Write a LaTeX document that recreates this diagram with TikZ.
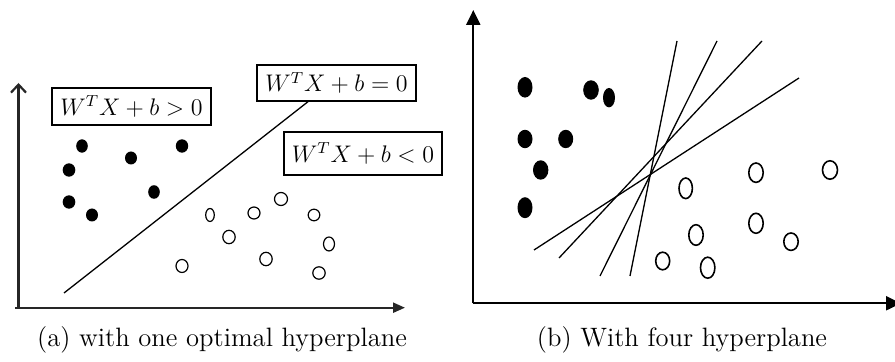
\documentclass[tikz,border=0pt]{standalone}
\usepackage{amsmath}
\usetikzlibrary{arrows.meta,positioning}

\begin{document}
\begin{tikzpicture}[x=0.5pt, y=-0.5pt,
    eqbox/.style={draw, line width=0.7pt, minimum width=79.5pt, minimum height=18.5pt,
                  inner sep=0pt, font=\fontsize{12}{14}\selectfont},
    axisline/.style={line width=1.1pt, black!85},
    plane/.style={line width=0.65pt},
    caption/.style={font=\fontsize{13.3}{16}\selectfont, anchor=base}]

    \useasboundingbox (0,0) rectangle (895,362);

    % Axes of the left plot
    \coordinate (oA) at (18.5,307.7);
    \coordinate (yA) at (18.5,83);
    \coordinate (xA) at (405,307.7);
    \draw[axisline, -{Straight Barb[length=4pt,width=7.5pt]}] (oA) -- (yA);
    \draw[axisline, -{Triangle[length=6pt,width=5pt]}] (15,307.7) -- (xA);

    % Decision boxes
    \node[eqbox] (boxPos) at (131.5,106.5) {$W^TX+b>0$};
    \node[eqbox, minimum height=18pt] (boxEq) at (336.5,83) {$W^TX+b=0$};
    \node[eqbox, minimum width=79pt, minimum height=21.5pt] (boxNeg) at (363,153.5) {$W^TX+b<0$};

    % Optimal hyperplane
    \coordinate (hyp) at (64,293);
    \draw[plane] (hyp) -- ([xshift=-14.25pt]boxEq.south);

    % Positive class
    \foreach \x/\y/\rx/\ry in {82/146/5.8/6.7, 69/170/6.3/6.7, 69/202/6.3/6.7, 92/215/6/6.5,
                               131/158/6/6.5, 182/146/6.2/6.7, 154/192/5.8/6.8}
      \fill (\x,\y) ellipse[x radius=\rx, y radius=\ry];

    % Negative class
    \foreach \x/\y/\rx/\ry in {210/215/4.3/6.5, 254/213/6/6, 281/199/6.5/6.5, 314/215/5.8/5.8,
                               229/237/6.2/6.7, 329/244/5.5/7, 266/259/6.2/6.7, 182/266/6/6.5,
                               319/273/6.2/6.2}
      \draw[line width=0.6pt] (\x,\y) ellipse[x radius=\rx, y radius=\ry];

    % Axes of the right plot
    \coordinate (oB) at (473.3,303.3);
    \coordinate (yB) at (473.3,10);
    \coordinate (xB) at (901,303.3);
    \draw[line width=1.1pt, -{Triangle[length=7.5pt,width=7pt]}] (oB) -- (yB);
    \draw[line width=1.1pt, -{Triangle[length=7.5pt,width=7pt]}] (oB) -- (xB);

    % Four hyperplanes
    \foreach \xa/\ya/\xb/\yb in {630/276/677/41, 600/276/717/41, 559/258/762/41, 534/250/799/78}
      \draw[plane] (\xa,\ya) -- (\xb,\yb);

    % Positive class
    \foreach \x/\y/\rx/\ry in {525/87.3/7.5/10.3, 591/90/7.8/9.7, 609/97.7/6/9.7, 525/139/7.5/9.2,
                               565.7/139/7.5/9.2, 540.7/170/7.7/9.7, 525/207.7/7.5/10.5}
      \fill (\x,\y) ellipse[x radius=\rx, y radius=\ry];

    % Negative class
    \foreach \x/\y/\rx/\ry in {685.7/188.3/6.7/10.3, 756/172.7/7.2/9.7, 830/170/7.5/9.2,
                               696/235/7.2/10.3, 756/223.3/7.2/10, 791/241.7/7.2/8.7,
                               662.7/261/7/8.8, 707.7/267.7/7.2/10.5}
      \draw[line width=0.8pt] (\x,\y) ellipse[x radius=\rx, y radius=\ry];

    % Captions
    \node[caption] (capA) at (222,347) {(a) with one optimal hyperplane};
    \node[caption] (capB) at (682,347) {(b) With four hyperplane};

\end{tikzpicture}
\end{document}
